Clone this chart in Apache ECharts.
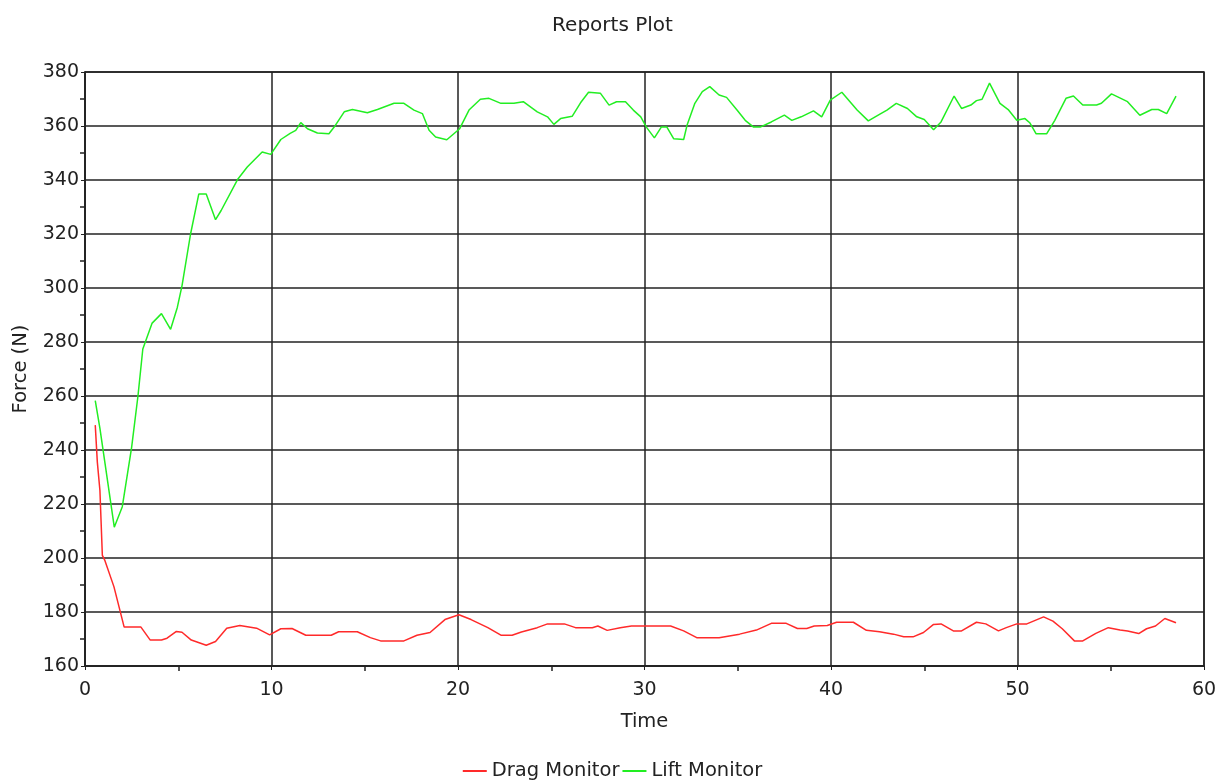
<!DOCTYPE html>
<html>
<head>
<meta charset="utf-8">
<script src="https://cdn.jsdelivr.net/npm/echarts@6/dist/echarts.min.js"></script>
<style>html,body{margin:0;padding:0;background:#fff;}#c{width:1225px;height:783px;}</style>
</head>
<body>
<div id="c"></div>
<script>
const liftTime = [0.55,0.8,1.57,2.0,2.5,2.84,3.1,3.6,4.1,4.59,4.95,5.2,5.66,6.1,6.5,7.0,7.3,8.2,8.7,9.5,9.96,10.5,11.0,11.3,11.57,11.93,12.46,13.08,13.36,13.9,14.34,15.14,15.68,16.57,17.1,17.64,18.09,18.45,18.8,19.4,20.09,20.59,21.2,21.66,22.3,23.0,23.5,24.25,24.8,25.14,25.5,26.12,26.57,27.0,27.64,28.1,28.5,28.98,29.4,29.8,30.1,30.53,30.9,31.2,31.57,32.1,32.28,32.7,33.1,33.5,34.0,34.4,34.96,35.4,35.85,36.2,36.8,37.5,37.9,38.4,39.06,39.5,39.96,40.58,41.4,42.0,42.6,43.0,43.5,44.1,44.6,45.0,45.5,45.9,46.6,47.0,47.5,47.8,48.1,48.5,49.06,49.5,49.96,50.4,50.67,51.0,51.56,52.0,52.6,53.0,53.5,54.24,54.5,55.04,55.9,56.56,57.2,57.55,58.0,58.5];
const liftForce = [258.3,248,211.4,219,241,260,277.4,287,290.5,284.7,292.8,300.8,320,334.8,334.8,325.3,328.7,340.4,344.8,350.4,349.5,355,357.3,358.4,361.25,359,357.4,357.1,359.6,365.25,366.1,364.9,366.1,368.4,368.4,365.9,364.6,358.4,355.9,354.9,359,365.9,369.9,370.25,368.4,368.4,369,365.25,363.4,360.6,362.75,363.6,368.6,372.5,372.1,367.75,369,369,365.9,363.4,359.6,355.6,359.6,359.6,355.25,355,360.25,368.4,372.75,374.6,371.5,370.6,365.9,362.1,359.6,359.6,361.5,364,362.1,363.4,365.6,363.4,369.6,372.5,365.9,361.9,364.3,365.9,368.4,366.5,363.4,362.4,358.6,361.5,371.1,366.5,367.75,369.4,369.9,375.9,368.4,366.1,362.1,362.75,361.1,357.1,357.1,362.1,370.25,371.1,367.75,367.75,368.4,371.9,369,364,366.1,366.1,364.6,371.1];
const dragTime = [0.55,0.66,0.8,0.93,1.07,1.55,2.1,3.0,3.5,4.1,4.4,4.9,5.2,5.7,6.5,7.0,7.6,8.3,9.2,9.9,10.5,11.1,11.84,13.2,13.6,14.6,15.3,15.85,17.1,17.8,18.5,19.3,20.05,20.7,21.6,22.3,22.9,23.4,24.25,24.8,25.7,26.3,27.2,27.5,28.0,28.7,29.3,31.4,32.1,32.8,34.0,35.1,36.0,36.8,37.6,38.2,38.7,39.1,39.8,40.3,41.2,41.9,42.6,43.35,43.9,44.4,44.96,45.5,45.9,46.56,47.0,47.8,48.3,48.98,49.4,49.96,50.5,51.4,51.9,52.4,53.05,53.5,54.2,54.87,55.5,55.9,56.5,56.92,57.4,57.9,58.5];
const dragForce = [249.2,235.6,225,201,199,189.4,174.4,174.4,169.6,169.6,170.3,172.8,172.5,169.6,167.7,169.1,174,175,174,171.5,173.8,173.9,171.4,171.4,172.7,172.7,170.5,169.3,169.3,171.4,172.4,177.2,179,177.2,174.2,171.4,171.4,172.6,174.2,175.6,175.6,174.2,174.2,174.8,173.2,174.2,174.8,174.8,173,170.5,170.5,171.8,173.3,175.8,175.8,173.9,173.9,174.8,175,176.2,176.2,173.2,172.7,171.8,170.8,170.8,172.4,175.4,175.6,173,173,176.2,175.6,173,174.2,175.6,175.6,178.2,176.6,173.8,169.3,169.3,172.1,174.2,173.3,173,172,173.8,174.8,177.6,176];
const seriesNames = ['Drag Monitor', 'Lift Monitor'];
const titleText = 'Reports Plot';
const xName = 'Time';
const yName = 'Force (N)';

const pair = (t, v) => t.map((x, i) => [x, v[i]]);
const font = 'DejaVu Sans, sans-serif';
const chart = echarts.init(document.getElementById('c'));
chart.setOption({
  animation: false,
  backgroundColor: '#fff',
  title: { text: titleText, left: 'center', top: 11, textStyle: { fontFamily: font, fontSize: 20, fontWeight: 'normal', color: '#222' } },
  grid: { left: 85, right: 21, top: 72, bottom: 117, show: true, borderColor: '#222', borderWidth: 1.5 },
  legend: {
    bottom: -3, left: 'center', itemGap: 3, itemWidth: 24, itemHeight: 2,
    icon: 'rect',
    textStyle: { fontFamily: font, fontSize: 19.5, color: '#222' },
    data: seriesNames
  },
  xAxis: {
    type: 'value', min: 0, max: 60, interval: 10,
    name: xName, nameLocation: 'middle', nameGap: 46,
    nameTextStyle: { fontFamily: font, fontSize: 19.5, color: '#222' },
    axisLine: { show: true, lineStyle: { color: '#222', width: 1.5 } },
    axisTick: { show: true, length: 4, lineStyle: { color: '#222' } },
    minorTick: { show: true, splitNumber: 2, length: 5, lineStyle: { color: '#222', width: 1.5 } },
    axisLabel: { fontFamily: font, fontSize: 19, color: '#222', margin: 15 },
    splitLine: { show: true, lineStyle: { color: '#222', width: 1.5 } }
  },
  yAxis: {
    type: 'value', min: 160, max: 380, interval: 20,
    name: yName, nameLocation: 'middle', nameGap: 54,
    nameTextStyle: { fontFamily: font, fontSize: 19.5, color: '#222' },
    axisLine: { show: true, lineStyle: { color: '#222', width: 1.5 } },
    axisTick: { show: true, length: 4, lineStyle: { color: '#222' } },
    minorTick: { show: true, splitNumber: 2, length: 5, lineStyle: { color: '#222', width: 1.5 } },
    axisLabel: { fontFamily: font, fontSize: 19, color: '#222', margin: 6 },
    splitLine: { show: true, lineStyle: { color: '#222', width: 1.5 } }
  },
  series: [
    { name: seriesNames[0], type: 'line', data: pair(dragTime, dragForce), showSymbol: false, symbol: 'none',
      lineStyle: { color: '#ff2a2a', width: 1.5 }, itemStyle: { color: '#ff2a2a' } },
    { name: seriesNames[1], type: 'line', data: pair(liftTime, liftForce), showSymbol: false, symbol: 'none',
      lineStyle: { color: '#22ee22', width: 1.5 }, itemStyle: { color: '#22ee22' } }
  ]
});
</script>
</body>
</html>
